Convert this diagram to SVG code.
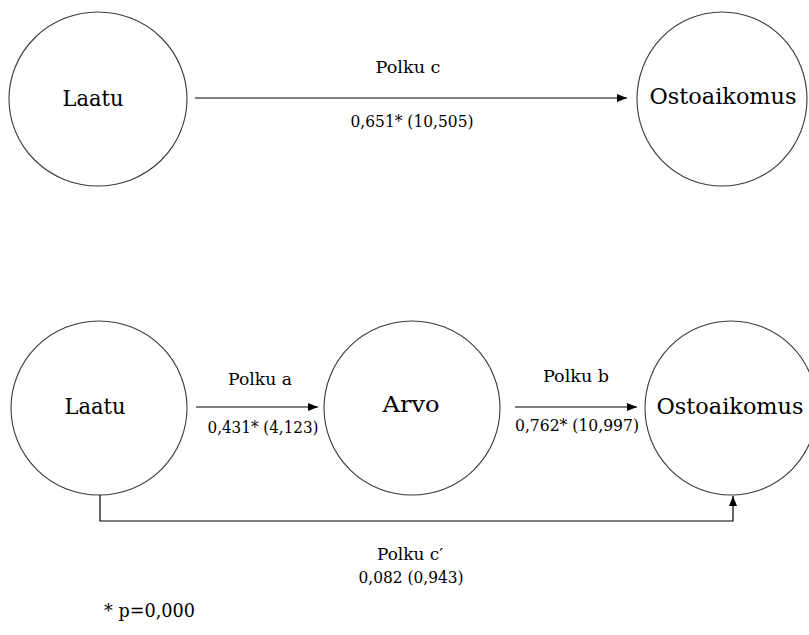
<svg xmlns="http://www.w3.org/2000/svg" width="809" height="635" viewBox="0 0 809 635">
<defs>
<style>
.node ellipse{fill:#fff;stroke:#3a3a3a;stroke-width:1.1}
.nt{font-family:"DejaVu Serif",serif;font-size:22.5px;fill:#000;text-anchor:middle}
.lt{font-family:"DejaVu Serif",serif;font-size:16.5px;fill:#000;text-anchor:middle}
.conn{fill:none;stroke:#000;stroke-width:1.2}
</style>
<marker id="ah" viewBox="0 0 10 8" refX="10" refY="4" markerWidth="10" markerHeight="8" markerUnits="userSpaceOnUse" orient="auto">
<path d="M0,0 L10,4 L0,8 z" fill="#000"/>
</marker>
</defs>
<rect width="809" height="635" fill="#fff"/>
<g id="top-laatu" class="node"><ellipse cx="98" cy="99" rx="89" ry="87"/><text class="nt" x="93" y="106" textLength="61" lengthAdjust="spacingAndGlyphs">Laatu</text></g>
<g id="top-ostoaikomus" class="node"><ellipse cx="722" cy="99" rx="85" ry="87"/><text class="nt" x="723" y="104" textLength="147" lengthAdjust="spacingAndGlyphs">Ostoaikomus</text></g>
<g id="bottom-laatu" class="node"><ellipse cx="99" cy="408" rx="88" ry="87"/><text class="nt" x="95" y="414" textLength="61" lengthAdjust="spacingAndGlyphs">Laatu</text></g>
<g id="arvo" class="node"><ellipse cx="412" cy="408" rx="88" ry="87"/><text class="nt" x="411" y="412" textLength="57" lengthAdjust="spacingAndGlyphs">Arvo</text></g>
<g id="bottom-ostoaikomus" class="node"><ellipse cx="731" cy="408" rx="86" ry="87"/><text class="nt" x="730" y="414" textLength="147" lengthAdjust="spacingAndGlyphs">Ostoaikomus</text></g>
<g id="connectors">
<line class="conn" x1="195" y1="98" x2="627" y2="98" marker-end="url(#ah)"/>
<line class="conn" x1="196" y1="407" x2="318" y2="407" marker-end="url(#ah)"/>
<line class="conn" x1="515" y1="407" x2="637" y2="407" marker-end="url(#ah)"/>
<polyline class="conn" points="100,495 100,521 733,521 733,496" marker-end="url(#ah)"/>
</g>
<g id="labels">
<text class="lt" x="408" y="73" textLength="65" lengthAdjust="spacingAndGlyphs">Polku c</text>
<text class="lt" x="412" y="127" textLength="123" lengthAdjust="spacingAndGlyphs">0,651* (10,505)</text>
<text class="lt" x="260" y="385" textLength="64" lengthAdjust="spacingAndGlyphs">Polku a</text>
<text class="lt" x="263" y="433" textLength="111" lengthAdjust="spacingAndGlyphs">0,431* (4,123)</text>
<text class="lt" x="576" y="382" textLength="66" lengthAdjust="spacingAndGlyphs">Polku b</text>
<text class="lt" x="577" y="431" textLength="124" lengthAdjust="spacingAndGlyphs">0,762* (10,997)</text>
<text class="lt" x="410" y="560" textLength="66" lengthAdjust="spacingAndGlyphs">Polku c′</text>
<text class="lt" x="411" y="583" textLength="105" lengthAdjust="spacingAndGlyphs">0,082 (0,943)</text>
<text class="lt" x="104" y="617" style="text-anchor:start;font-size:18.5px" textLength="91" lengthAdjust="spacingAndGlyphs">* p=0,000</text>
</g>
</svg>
